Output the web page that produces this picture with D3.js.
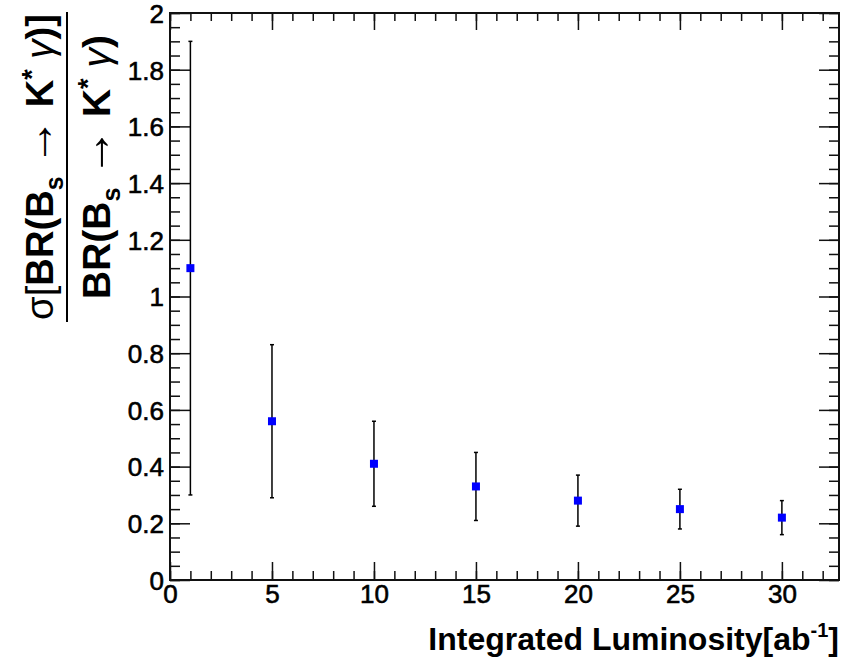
<!DOCTYPE html>
<html>
<head>
<meta charset="utf-8" />
<title>BR ratio uncertainty vs luminosity</title>
<script src="https://d3js.org/d3.v7.min.js"></script>
<style>
    body { margin: 0; background: #fff; }
    text { font-family: "Liberation Sans", Arial, Helvetica, sans-serif; }
</style>
</head>
<body>
<svg id="chart"></svg>
<script>
// values
var lumi     = [1, 5, 10, 15, 20, 25, 30]
var relErr   = [1.10, 0.56, 0.41, 0.33, 0.28, 0.25, 0.22]
var errLow   = [0.30, 0.29, 0.26, 0.21, 0.19, 0.18, 0.16]
var errHigh  = [1.90, 0.83, 0.56, 0.45, 0.37, 0.32, 0.28]

var xMajor = [0, 5, 10, 15, 20, 25, 30]
var xMinor = d3.range(0, 33, 1)
var yMajor = [0, 0.2, 0.4, 0.6, 0.8, 1, 1.2, 1.4, 1.6, 1.8, 2]
var yMinor = d3.range(0, 2.001, 0.05)
var yLabels = ['0', '0.2', '0.4', '0.6', '0.8', '1', '1.2', '1.4', '1.6', '1.8', '2']

var W = 846, H = 661
var padL = 170, padR = 839, padT = 13, padB = 580

var svg = d3.select('#chart').attr('width', W).attr('height', H)

var x = d3.scaleLinear().domain([0, 32.8]).range([padL, padR])
var y = d3.scaleLinear().domain([0, 2]).range([padB, padT])

function drawAxis(axis, tx, ty) {
    var g = svg.append('g').attr('transform', `translate(${tx},${ty})`).call(axis)
    g.select('.domain').remove()
    g.selectAll('line').attr('stroke', '#111').attr('stroke-width', 1.5)
    g.selectAll('text').attr('fill', '#000').style('font-size', '26px')
        .style('stroke', '#000').style('stroke-width', 0.6)
    return g
}

// bottom
drawAxis(d3.axisBottom(x).tickValues(xMinor).tickSize(-9).tickSizeOuter(0).tickFormat(''), 0, padB)
drawAxis(d3.axisBottom(x).tickValues(xMajor).tickSize(-18).tickSizeOuter(0).tickPadding(5).tickFormat(d3.format('d')), 0, padB)
// top
drawAxis(d3.axisTop(x).tickValues(xMinor).tickSize(-8).tickSizeOuter(0).tickFormat(''), 0, padT)
drawAxis(d3.axisTop(x).tickValues(xMajor).tickSize(-17).tickSizeOuter(0).tickFormat(''), 0, padT)
// left
drawAxis(d3.axisLeft(y).tickValues(yMinor).tickSize(-10).tickSizeOuter(0).tickFormat(''), padL, 0)
var yAx = drawAxis(d3.axisLeft(y).tickValues(yMajor).tickSize(-20).tickSizeOuter(0).tickPadding(6)
    .tickFormat(function (d, i) { return yLabels[i] }), padL, 0)
yAx.selectAll('text').attr('dy', '0.36em')
// right
drawAxis(d3.axisRight(y).tickValues(yMinor).tickSize(-10).tickSizeOuter(0).tickFormat(''), padR, 0)
drawAxis(d3.axisRight(y).tickValues(yMajor).tickSize(-20).tickSizeOuter(0).tickFormat(''), padR, 0)

// frame
svg.append('rect')
    .attr('x', padL).attr('y', padT)
    .attr('width', padR - padL).attr('height', padB - padT)
    .attr('fill', 'none').attr('stroke', '#111').attr('stroke-width', 2)

// error bars
var pts = lumi.map(function (d, i) {
    return { x: d, y: relErr[i], lo: errLow[i], hi: errHigh[i] }
})
var eb = svg.append('g').attr('stroke', '#000').attr('stroke-width', 1.5)
eb.selectAll('.bar').data(pts).enter().append('line')
    .attr('x1', d => x(d.x)).attr('x2', d => x(d.x))
    .attr('y1', d => y(d.lo)).attr('y2', d => y(d.hi))
eb.selectAll('.capLo').data(pts).enter().append('line')
    .attr('x1', d => x(d.x) - 2).attr('x2', d => x(d.x) + 2)
    .attr('y1', d => y(d.lo)).attr('y2', d => y(d.lo))
eb.selectAll('.capHi').data(pts).enter().append('line')
    .attr('x1', d => x(d.x) - 2).attr('x2', d => x(d.x) + 2)
    .attr('y1', d => y(d.hi)).attr('y2', d => y(d.hi))

svg.append('g').selectAll('rect').data(pts).enter().append('rect')
    .attr('x', d => x(d.x) - 4).attr('y', d => y(d.y) - 4)
    .attr('width', 8).attr('height', 8)
    .attr('fill', '#0000ff')

// x title
var xt = svg.append('text')
    .attr('x', padR).attr('y', 650)
    .attr('text-anchor', 'end')
    .style('font-size', '32px').style('font-weight', 'bold')
xt.append('tspan').text('Integrated Luminosity[ab')
xt.append('tspan').attr('dy', -13).style('font-size', '20px').text('-1')
xt.append('tspan').attr('dy', 13).text(']')

// y title: fraction, rotated
var yt = svg.append('g').attr('transform', 'translate(67,167) rotate(-90)')

function fracLine(parent, withSigma, baseY, target) {
    var t = parent.append('text')
        .attr('x', 0).attr('y', baseY)
        .attr('text-anchor', 'middle')
        .style('font-size', '40px').style('font-weight', 'bold')
    if (withSigma) t.append('tspan').style('font-weight', 'normal').text('σ[')
    t.append('tspan').text('BR(B')
    t.append('tspan').attr('dy', 10).style('font-size', '26px').text('s')
    t.append('tspan').attr('dy', -10).text(' ')
    t.append('tspan').style('font-weight', 'normal').style('font-size', '50px').text('→')
    t.append('tspan').text(' K')
    t.append('tspan').attr('dy', -13).style('font-size', '28px').text('*')
    t.append('tspan').attr('dy', 13).style('font-weight', 'normal').style('font-style', 'italic').text(' γ')
    t.append('tspan').text(withSigma ? ')]' : ')')
    var len = t.node().getComputedTextLength()
    var k = target / len
    t.attr('transform', `scale(${k})`).attr('y', baseY / k)
    return t
}
fracLine(yt, true, -14, 306)
fracLine(yt, false, 43, 264)

yt.append('line')
    .attr('x1', -155).attr('x2', 155)
    .attr('y1', 0).attr('y2', 0)
    .attr('stroke', '#000').attr('stroke-width', 2)
</script>
</body>
</html>
